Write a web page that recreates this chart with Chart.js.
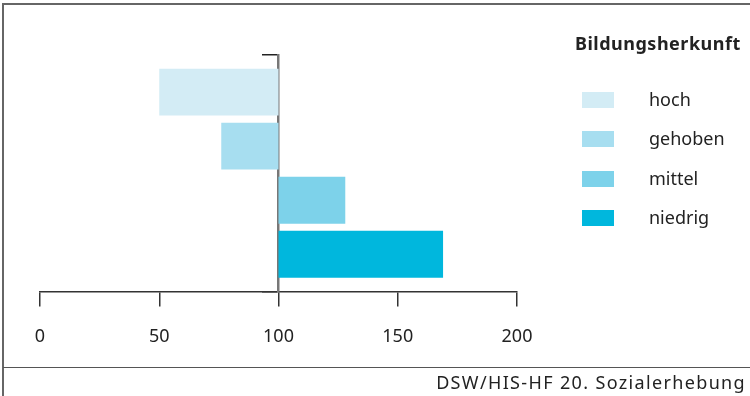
<!DOCTYPE html>
<html>
<head>
<meta charset="utf-8">
<script src="https://cdn.jsdelivr.net/npm/chart.js@4/dist/chart.umd.min.js"></script>
<style>
  body { margin: 0; background: #fff; font-family: "Noto Sans", sans-serif; color: #222; }
  #wrap { position: relative; width: 750px; height: 396px; overflow: hidden; }
  #frame { position: absolute; left: 2px; top: 3px; width: 760px; height: 400px;
           border-left: 2px solid #666; border-top: 2px solid #666; }
  #sep { position: absolute; left: 3px; top: 367px; width: 747px; height: 0; border-top: 1.5px solid #555; }
  #src { position: absolute; right: 4px; top: 370px; font-size: 18px; line-height: 25px; letter-spacing: 1.35px; }
  #legend { position: absolute; left: 575px; top: 31px; }
  #legend .title { font-weight: bold; font-size: 18px; line-height: 25px; letter-spacing: 0.5px; margin-bottom: 32px; }
  #legend .item { position: relative; height: 39.3px; font-size: 18px; }
  #legend .sw { position: absolute; left: 7px; top: 4px; width: 32px; height: 16px; }
  #legend .lb { position: absolute; left: 74px; top: -1px; line-height: 25px; }
  canvas { position: absolute; left: 0; top: 0; }
</style>
</head>
<body>
<div id="wrap">
  <canvas id="myChart" width="750" height="396"></canvas>
  <div id="frame"></div>
  <div id="sep"></div>
  <div id="legend"></div>
  <div id="src">DSW/HIS-HF 20. Sozialerhebung</div>
</div>
<script>
// Bildungsherkunft, Index (100 = Durchschnitt)
let groups = ['hoch', 'gehoben', 'mittel', 'niedrig'];
let values = [50, 76, 128, 169];
let baseValue = 100;
let colors = ['#d3ecf5', '#a7def0', '#7dd2ea', '#00b7dd'];
let xTicks = [0, 50, 100, 150, 200];
let legendTitle = 'Bildungsherkunft';

let datasets = [];
for (let i = 0; i < groups.length; i++) {
    datasets.push({
        label: groups[i],
        data: [[baseValue, values[i]]],
        backgroundColor: colors[i],
        borderWidth: 0,
        categoryPercentage: 0.915,
        barPercentage: 0.867
    });
}

// legend
let legendEl = document.getElementById('legend');
let html = '<div class="title">' + legendTitle + '</div>';
for (let i = 0; i < groups.length; i++) {
    html += '<div class="item"><span class="sw" style="background:' + colors[i] + '"></span>' +
            '<span class="lb">' + groups[i] + '</span></div>';
}
legendEl.innerHTML = html;

let ctx = document.getElementById('myChart').getContext('2d');
const myChart = new Chart(ctx, {
    type: 'bar',
    data: {
        labels: [''],
        datasets: datasets
    },
    options: {
        indexAxis: 'y',
        responsive: false,
        animation: false,
        layout: {
            padding: { top: 55, left: 40, right: 233, bottom: 28 }
        },
        plugins: {
            legend: { display: false },
            tooltip: { enabled: false }
        },
        scales: {
            x: {
                min: 0,
                max: 200,
                afterBuildTicks: function (axis) {
                    axis.ticks = xTicks.map(v => ({ value: v }));
                },
                grid: {
                    drawOnChartArea: false,
                    drawTicks: true,
                    tickLength: 15,
                    color: '#333',
                    lineWidth: 1.5
                },
                border: { display: true, color: '#333', width: 1.5 },
                ticks: {
                    padding: 20,
                    color: '#222',
                    font: { family: 'Noto Sans', size: 18 }
                }
            },
            y: {
                position: { x: baseValue },
                grid: {
                    drawOnChartArea: false,
                    drawTicks: true,
                    tickLength: 15,
                    color: '#222',
                    lineWidth: 1.5
                },
                border: { display: true, color: '#777', width: 2.5 },
                ticks: { display: false }
            }
        }
    }
});
</script>
</body>
</html>
